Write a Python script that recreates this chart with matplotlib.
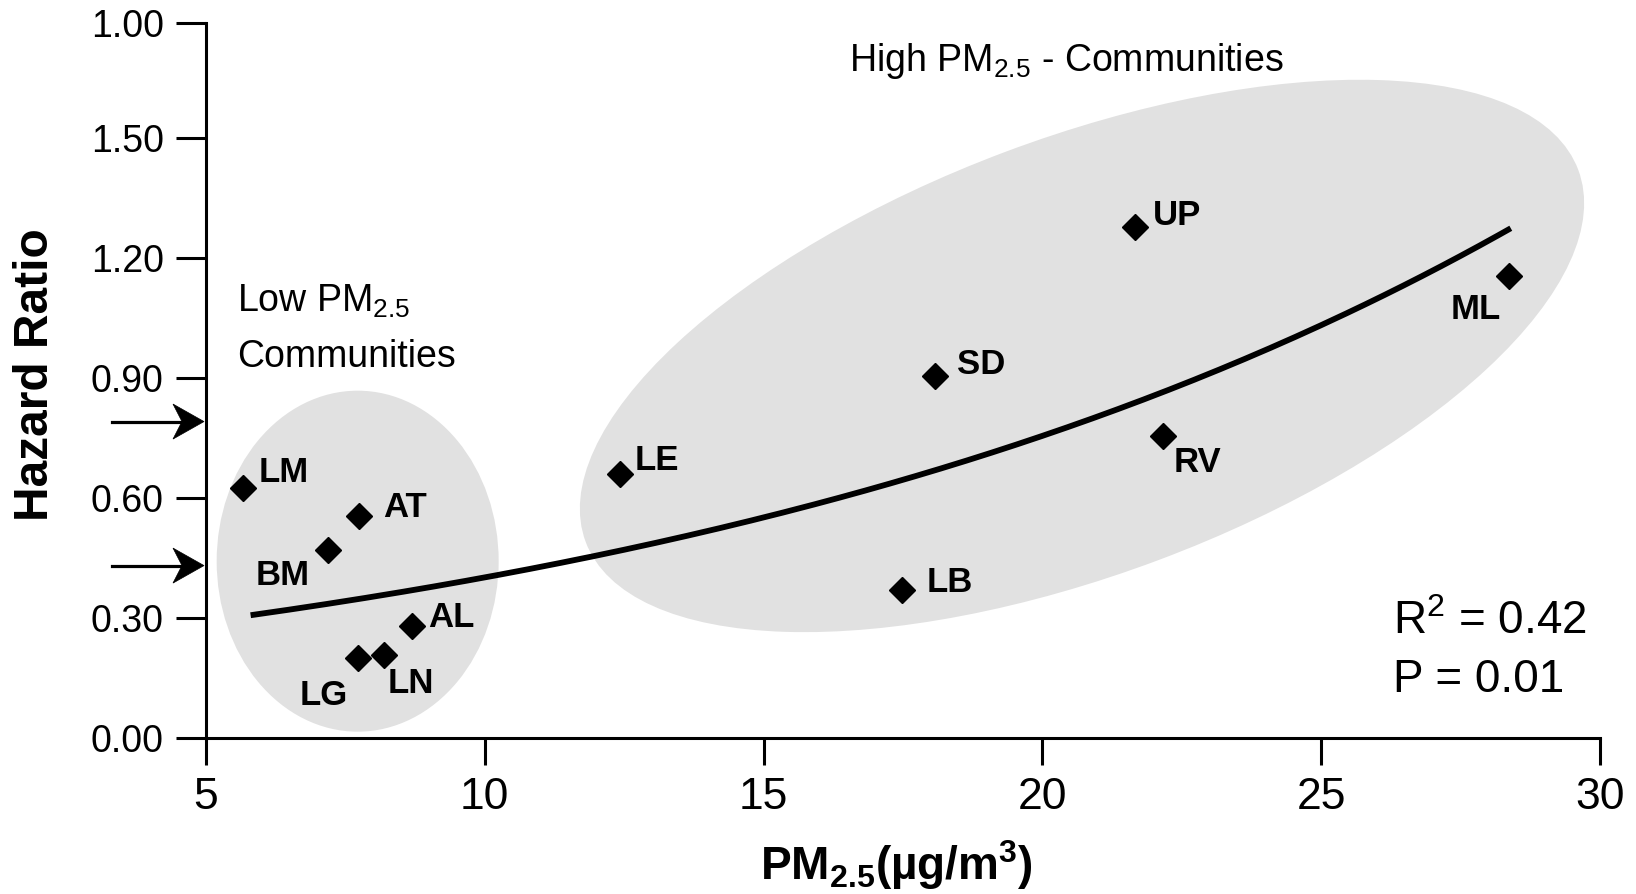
import numpy as np
import matplotlib
matplotlib.use('Agg')
import matplotlib.pyplot as plt
from matplotlib.patches import Ellipse, Polygon
from matplotlib.lines import Line2D
from matplotlib.transforms import IdentityTransform

plt.rcParams['font.family'] = ['Liberation Sans', 'DejaVu Sans']
plt.rcParams['mathtext.fontset'] = 'custom'
plt.rcParams['mathtext.rm'] = 'Liberation Sans'
plt.rcParams['mathtext.it'] = 'Liberation Sans:italic'
plt.rcParams['mathtext.bf'] = 'Liberation Sans:bold'

# ---------------- data ----------------
communities = ['LM', 'AT', 'BM', 'AL', 'LG', 'LN', 'LE', 'SD', 'UP', 'RV', 'ML', 'LB']
pm25 = [5.67, 7.74, 7.19, 8.69, 7.73, 8.19, 12.42, 18.07, 21.66, 22.17, 28.37, 17.48]
hazard_ratio = [0.626, 0.556, 0.470, 0.281, 0.199, 0.208, 0.661, 0.904, 1.278, 0.755, 1.155, 0.371]

# trend curve
curve_pm25 = [5.8, 8.0, 10.27, 12.5, 15.5, 19.42, 21.64, 24.64, 26.6, 28.4]
curve_hr = [0.306, 0.350, 0.416, 0.477, 0.558, 0.718, 0.840, 1.025, 1.145, 1.262]

xtick_values = [5, 10, 15, 20, 25, 30]
xtick_labels = ['5', '10', '15', '20', '25', '30']
ytick_values = [0.0, 0.3, 0.6, 0.9, 1.2, 1.5, 1.788]
ytick_labels = ['0.00', '0.30', '0.60', '0.90', '1.20', '1.50', '1.00']
arrow_levels = [0.791, 0.431]

stats_lines = ['R$^2$ = 0.42', 'P = 0.01']

# label offsets (pixels) and alignment per community
label_offsets = {
    'LM': (15, 6, 'left'), 'AT': (24, -1, 'left'), 'BM': (-18, -35, 'right'),
    'AL': (16, -1, 'left'), 'LG': (-10, -47, 'right'), 'LN': (4, -38, 'left'),
    'LE': (15, 4, 'left'), 'SD': (22, 2, 'left'), 'UP': (18, 2, 'left'),
    'RV': (10, -36, 'left'), 'ML': (-8, -43, 'right'), 'LB': (25, -2, 'left'),
}

# ---------------- figure ----------------
W, H = 1636, 894
fig = plt.figure(figsize=(W / 100, H / 100), dpi=100)
x0, x1, yb, yt = 206, 1600, 738, 22.7
ax = fig.add_axes([x0 / W, (H - yb) / H, (x1 - x0) / W, (yb - yt) / H])
ax.set_xlim(5, 30)
ax.set_ylim(0, 1.788)

for s in ['top', 'right']:
    ax.spines[s].set_visible(False)
for s in ['left', 'bottom']:
    ax.spines[s].set_linewidth(2.2)
ax.spines['left'].set_capstyle('projecting')

ax.set_xticks(xtick_values)
ax.set_xticklabels(xtick_labels)
ax.set_yticks(ytick_values)
ax.set_yticklabels(ytick_labels)
ax.tick_params(axis='y', direction='out', length=21.5, width=2.2, pad=9, labelsize=27)
ax.tick_params(axis='x', direction='out', length=19.5, width=2.2, pad=8.5, labelsize=32)

# axis titles
fig.text(36 / W, 1 - 375 / H, 'Hazard Ratio', rotation=90, fontsize=34.5,
         fontweight='bold', ha='center', va='center')
fig.text(896 / W, 1 - 880 / H, r'PM$_{\mathbf{2.5}}$(µg/m$^{\mathbf{3}}$)', fontsize=33,
         fontweight='bold', ha='center', va='baseline')

fig.canvas.draw()

def px_center(xd, yd):
    return ax.transData.transform((xd, yd))

# shaded ellipses (pixel geometry)
c_low = px_center(7.72, 0.442)
ax.add_patch(Ellipse(c_low, 282, 341, angle=0, transform=IdentityTransform(),
                     facecolor='#e1e1e1', edgecolor='none', zorder=0))
c_high = px_center(20.71, 0.955)
ax.add_patch(Ellipse(c_high, 1060, 436, angle=20.55, transform=IdentityTransform(),
                     facecolor='#e1e1e1', edgecolor='none', zorder=0))

# trend curve
coef = np.polyfit(curve_pm25, np.log(curve_hr), 2)
xs = np.linspace(curve_pm25[0], curve_pm25[-1], 200)
ax.plot(xs, np.exp(np.polyval(coef, xs)), color='black', lw=4.2, zorder=2,
        solid_capstyle='butt')

# points
ax.plot(pm25, hazard_ratio, linestyle='none', marker='D', markersize=13,
        color='black', zorder=3)

for name, x, y in zip(communities, pm25, hazard_ratio):
    dx, dy, ha = label_offsets[name]
    ax.annotate(name, (x, y), xytext=(dx, dy), textcoords='offset pixels',
                ha=ha, va='baseline', fontsize=25, fontweight='bold', zorder=4)

# arrows pointing at the y axis (drawn in pixel space)
for lvl in arrow_levels:
    tx, ty = px_center(5, lvl)
    tx -= 2
    shaft = Line2D([111.7, tx - 20], [ty, ty], color='black', lw=2.3,
                   transform=IdentityTransform(), clip_on=False)
    fig.add_artist(shaft)
    head = Polygon([[tx, ty], [tx - 31, ty + 17.5], [tx - 22, ty], [tx - 31, ty - 17.5]],
                   closed=True, facecolor='black', edgecolor='black', lw=0.5,
                   transform=IdentityTransform(), clip_on=False)
    fig.add_artist(head)

# group labels
fig.text(237 / W, 1 - 311.7 / H, r'Low PM$_{2.5}$', fontsize=27, ha='left', va='baseline')
fig.text(237 / W, 1 - 366.7 / H, 'Communities', fontsize=27, ha='left', va='baseline')
fig.text(1066 / W, 1 - 71 / H, r'High PM$_{2.5}$ - Communities', fontsize=27,
         ha='center', va='baseline')

# statistics
fig.text(1393 / W, 1 - 634 / H, stats_lines[0], fontsize=33, ha='left', va='baseline')
fig.text(1393 / W, 1 - 691.5 / H, stats_lines[1], fontsize=33, ha='left', va='baseline')

fig.savefig('out.png', dpi=100)
